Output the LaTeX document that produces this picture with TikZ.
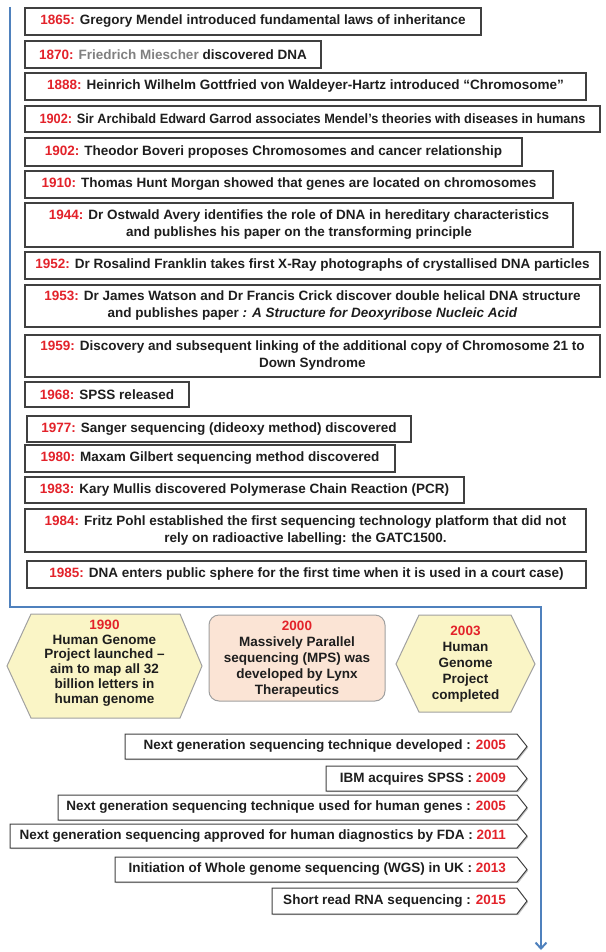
\documentclass[tikz,border=0pt]{standalone}
\usepackage{fontspec}
\setmainfont{Liberation Sans}
\usetikzlibrary{arrows.meta,shadows}
\definecolor{yrred}{HTML}{E3222A}
\definecolor{txtc}{HTML}{1E1E1E}
\definecolor{grytxt}{HTML}{808080}
\definecolor{tlblue}{HTML}{4F81BD}
\definecolor{hexfill}{HTML}{FAF5C6}
\definecolor{peach}{HTML}{FBE4D5}
\definecolor{bordc}{HTML}{404040}
\definecolor{softbord}{HTML}{A0A0A0}
\newcommand{\yr}[1]{\textcolor{yrred}{#1}}
\newcommand{\evfont}{\fontsize{13.5}{17}\selectfont\bfseries}
\tikzset{
  softshadow/.style={drop shadow={shadow xshift=1.2pt, shadow yshift=-1.2pt, opacity=0.22, fill=black}},
  evbox/.style={draw=bordc, line width=1.1pt, fill=white, inner sep=0pt,
    align=center, font=\evfont, text=txtc, softshadow},
  chev/.style={draw=bordc, line width=1.0pt, fill=white, softshadow},
  chevtxt/.style={inner sep=0pt, font=\evfont, text=txtc, anchor=east},
  hexa/.style={draw=softbord, line width=1.0pt, fill=hexfill},
  roundbox/.style={draw=softbord, line width=1.0pt, fill=peach, rounded corners=10pt},
  shapetxt/.style={inner sep=0pt, align=center, text=txtc},
  tline/.style={draw=tlblue, line width=2.3pt, -{Straight Barb[length=6pt,width=11pt,line width=2pt]}},
}
\begin{document}
\begin{tikzpicture}[x=1pt,y=-1pt]
\useasboundingbox (0,0) rectangle (605,952);

% timeline connector
\coordinate (tA) at (10,7);
\coordinate (tB) at (10,607);
\coordinate (tC) at (541,607);
\coordinate (tD) at (541,950);
\draw[tline] (tA) -- (tB) -- (tC) -- (tD);

% event boxes
\node[evbox, minimum width=456pt, minimum height=27pt] (e1865) at (253,21.5)
  {\yr{1865:} Gregory Mendel introduced fundamental laws of inheritance};
\node[evbox, minimum width=296pt, minimum height=27pt] (e1870) at (173,54.5)
  {\yr{1870:} \textcolor{grytxt}{Friedrich Miescher} discovered DNA};
\node[evbox, minimum width=561pt, minimum height=27pt] (e1888) at (305.5,86.5)
  {\yr{1888:} Heinrich Wilhelm Gottfried von Waldeyer-Hartz introduced “Chromosome”};
\node[evbox, minimum width=575pt, minimum height=26pt] (e1902a) at (312.5,119)
  {\scalebox{0.945}[1]{\yr{1902:} Sir Archibald Edward Garrod associates Mendel’s theories with diseases in humans}};
\node[evbox, minimum width=497pt, minimum height=28pt] (e1902b) at (273.5,152)
  {\yr{1902:} Theodor Boveri proposes Chromosomes and cancer relationship};
\node[evbox, minimum width=528pt, minimum height=27pt] (e1910) at (289,184.5)
  {\yr{1910:} Thomas Hunt Morgan showed that genes are located on chromosomes};
\node[evbox, minimum width=548pt, minimum height=44pt] (e1944) at (299,225)
  {\yr{1944:} Dr Ostwald Avery identifies the role of DNA in hereditary characteristics\\
   and publishes his paper on the transforming principle};
\node[evbox, minimum width=575pt, minimum height=27pt] (e1952) at (312.5,265.5)
  {\yr{1952:} Dr Rosalind Franklin takes first X-Ray photographs of crystallised DNA particles};
\node[evbox, minimum width=575pt, minimum height=42pt] (e1953) at (312.5,306)
  {\yr{1953:} Dr James Watson and Dr Francis Crick discover double helical DNA structure\\
   and publishes paper \textit{: A Structure for Deoxyribose Nucleic Acid}};
\node[evbox, minimum width=575pt, minimum height=42pt] (e1959) at (312.5,356)
  {\yr{1959:} Discovery and subsequent linking of the additional copy of Chromosome 21 to\\
   Down Syndrome};
\node[evbox, minimum width=164pt, minimum height=25pt] (e1968) at (107,394.5)
  {\yr{1968:} SPSS released};
\node[evbox, minimum width=384pt, minimum height=26pt] (e1977) at (219,429)
  {\yr{1977:} Sanger sequencing (dideoxy method) discovered};
\node[evbox, minimum width=370pt, minimum height=27pt] (e1980) at (210,458.5)
  {\yr{1980:} Maxam Gilbert sequencing method discovered};
\node[evbox, minimum width=439pt, minimum height=26pt] (e1983) at (244.5,490)
  {\yr{1983:} Kary Mullis discovered Polymerase Chain Reaction (PCR)};
\node[evbox, minimum width=561pt, minimum height=43pt] (e1984) at (305.5,530.5)
  {\yr{1984:} Fritz Pohl established the first sequencing technology platform that did not\\
   rely on radioactive labelling: the GATC1500.};
\node[evbox, minimum width=559pt, minimum height=27pt] (e1985) at (306.5,574.5)
  {\yr{1985:} DNA enters public sphere for the first time when it is used in a court case)};

% milestone shapes
\draw[hexa] (7,666) -- (31,614) -- (180,614) -- (202,666) -- (180,718) -- (31,718) -- cycle;
\node[shapetxt, font=\fontsize{13.5}{14.7}\selectfont\bfseries] (m1990) at (104.5,663)
  {\yr{1990}\\Human Genome\\Project launched –\\aim to map all 32\\billion letters in\\human genome};
\draw[roundbox] (209,615) rectangle (385,701);
\node[shapetxt, font=\fontsize{13.5}{16}\selectfont\bfseries] (m2000) at (297,659)
  {\yr{2000}\\Massively Parallel\\sequencing (MPS) was\\developed by Lynx\\Therapeutics};
\draw[hexa] (396,664) -- (419,615) -- (511,615) -- (535,664) -- (511,712) -- (419,712) -- cycle;
\node[shapetxt, font=\fontsize{13.5}{16}\selectfont\bfseries] (m2003) at (465.5,664.5)
  {\yr{2003}\\Human\\Genome\\Project\\completed};

% chevrons
\draw[chev] (125,734) -- (517,734) -- (527,746.5) -- (517,759) -- (125,759) -- cycle;
\node[chevtxt] (c2005a) at (506,746.5) {Next generation sequencing technique developed : \yr{2005}};
\draw[chev] (326,766) -- (517,766) -- (527,778.5) -- (517,791) -- (326,791) -- cycle;
\node[chevtxt] (c2009) at (506,778.5) {IBM acquires SPSS : \yr{2009}};
\draw[chev] (58,795) -- (517,795) -- (527,807.5) -- (517,820) -- (58,820) -- cycle;
\node[chevtxt] (c2005b) at (506,807.5) {Next generation sequencing technique used for human genes : \yr{2005}};
\draw[chev] (10,824) -- (517,824) -- (527,836) -- (517,848) -- (10,848) -- cycle;
\node[chevtxt] (c2011) at (506,836) {Next generation sequencing approved for human diagnostics by FDA : \yr{2011}};
\draw[chev] (115,857) -- (517,857) -- (527,869.5) -- (517,882) -- (115,882) -- cycle;
\node[chevtxt] (c2013) at (506,869.5) {Initiation of Whole genome sequencing (WGS) in UK : \yr{2013}};
\draw[chev] (272,888) -- (517,888) -- (527,901) -- (517,914) -- (272,914) -- cycle;
\node[chevtxt] (c2015) at (506,901) {Short read RNA sequencing : \yr{2015}};
\end{tikzpicture}
\end{document}
